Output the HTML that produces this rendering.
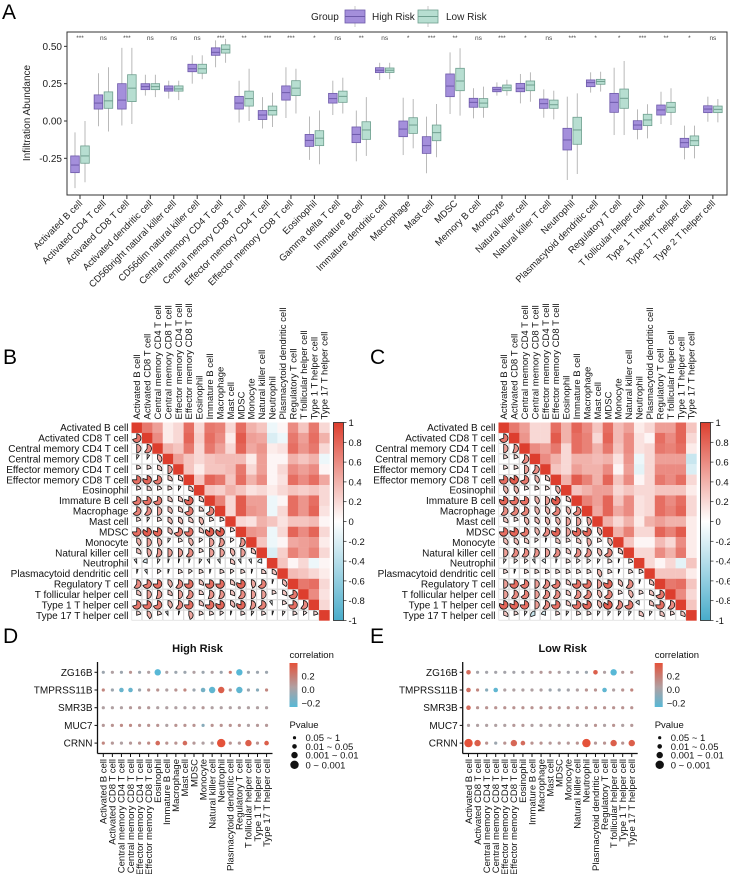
<!DOCTYPE html>
<html><head><meta charset="utf-8">
<style>
html,body{margin:0;padding:0;background:#fff;}
svg{display:block;font-family:"Liberation Sans",Arial,sans-serif;}
</style></head>
<body>
<svg id="fig" width="730" height="874" viewBox="0 0 730 874" xmlns="http://www.w3.org/2000/svg"></svg>
<script>
// ---------- DATA ----------
const boxCategories=["Activated B cell","Activated CD4 T cell","Activated CD8 T cell","Activated dendritic cell","CD56bright natural killer cell","CD56dim natural killer cell","Central memory CD4 T cell","Central memory CD8 T cell","Effector memory CD4 T cell","Effector memory CD8 T cell","Eosinophil","Gamma delta T cell","Immature  B cell","Immature dendritic cell","Macrophage","Mast cell","MDSC","Memory B cell","Monocyte","Natural killer cell","Natural killer T cell","Neutrophil","Plasmacytoid dendritic cell","Regulatory T cell","T follicular helper cell","Type 1 T helper cell","Type 17 T helper cell","Type 2 T helper cell"];
const highMedian=[-0.295,0.12,0.14,0.23,0.215,0.35,0.46,0.12,0.04,0.19,-0.13,0.15,-0.09,0.34,-0.054,-0.165,0.234,0.125,0.21,0.219,0.116,-0.127,0.257,0.125,-0.027,0.074,-0.145,0.08];
const highQ1=[-0.346,0.08,0.08,0.21,0.2,0.33,0.44,0.08,0.01,0.14,-0.17,0.12,-0.145,0.324,-0.105,-0.217,0.163,0.092,0.196,0.196,0.085,-0.194,0.23,0.058,-0.056,0.04,-0.176,0.056];
const highQ3=[-0.234,0.175,0.25,0.25,0.235,0.38,0.49,0.165,0.07,0.235,-0.09,0.185,-0.04,0.357,0,-0.105,0.315,0.152,0.226,0.252,0.147,-0.049,0.275,0.185,0.002,0.107,-0.116,0.102];
const highLow=[-0.45,-0.035,-0.03,0.17,0.15,0.25,0.36,-0.01,-0.05,0.02,-0.26,0.04,-0.27,0.275,-0.228,-0.35,0.047,0.018,0.17,0.118,0.022,-0.395,0.19,-0.094,-0.123,-0.02,-0.257,-0.005];
const highHigh=[-0.076,0.32,0.49,0.31,0.27,0.44,0.54,0.27,0.16,0.36,0.03,0.27,0.07,0.39,0.156,0.029,0.46,0.219,0.259,0.315,0.212,0.163,0.326,0.357,0.078,0.196,-0.031,0.163];
const lowMedian=[-0.234,0.135,0.22,0.23,0.215,0.35,0.48,0.15,0.07,0.22,-0.115,0.165,-0.06,0.34,-0.027,-0.078,0.268,0.12,0.222,0.241,0.109,-0.06,0.265,0.152,0.007,0.092,-0.132,0.078];
const lowQ1=[-0.283,0.085,0.13,0.21,0.2,0.32,0.455,0.1,0.04,0.17,-0.165,0.125,-0.123,0.325,-0.083,-0.132,0.203,0.092,0.203,0.203,0.085,-0.156,0.246,0.085,-0.031,0.058,-0.165,0.056];
const lowQ3=[-0.167,0.195,0.31,0.25,0.235,0.38,0.51,0.2,0.1,0.27,-0.065,0.2,-0.005,0.355,0.022,-0.027,0.353,0.15,0.241,0.268,0.14,0.025,0.279,0.214,0.045,0.125,-0.1,0.1];
const lowLow=[-0.41,-0.07,-0.02,0.16,0.14,0.28,0.39,0,-0.04,0.05,-0.29,0.05,-0.234,0.28,-0.183,-0.243,0.036,0.022,0.17,0.129,0.011,-0.355,0.197,-0.094,-0.116,-0.027,-0.25,-0.009];
const lowHigh=[0.0,0.36,0.49,0.31,0.27,0.44,0.55,0.35,0.19,0.35,0.07,0.29,0.16,0.39,0.147,0.114,0.487,0.23,0.276,0.326,0.203,0.185,0.33,0.402,0.112,0.219,-0.031,0.147];
const sigLabels=["***","ns","***","ns","ns","ns","***","**","***","***","*","ns","**","ns","*","***","**","ns","***","*","ns","***","*","*","***","**","*","ns"];
const yTicksA=[0.5,0.25,0,-0.25];
const yTickLabelsA=["0.50","0.25","0.00","-0.25"];

const corrCells=["Activated B cell","Activated CD8 T cell","Central memory CD4 T cell","Central memory CD8 T cell","Effector memory CD4 T cell","Effector memory CD8 T cell","Eosinophil","Immature  B cell","Macrophage","Mast cell","MDSC","Monocyte","Natural killer cell","Neutrophil","Plasmacytoid dendritic cell","Regulatory T cell","T follicular helper cell","Type 1 T helper cell","Type 17 T helper cell"];
const corrHighLower=[[],[0.7],[0.5,0.6],[0.1,0.1,0.4],[0.2,0.2,0.3,0.5],[0.75,0.8,0.7,0.3,0.3],[0.2,0.25,0.2,0.2,0.1,0.3],[0.7,0.75,0.7,0.3,0.3,0.8,0.3],[0.65,0.6,0.5,0.35,0.3,0.7,0.25,0.65],[0.2,0.1,0.2,0.35,0.35,0.3,0.4,0.2,0.2],[0.75,0.85,0.8,0.35,0.7,0.75,0.3,0.85,0.85,0.2],[0.4,0.5,0.45,0.1,0.2,0.4,0.15,0.5,0.55,0.15,0.55],[0.3,0.45,0.55,0.5,0.5,0.6,0.2,0.5,0.5,0.4,0.5,0.3],[-0.1,-0.2,0.1,0.05,0.05,0.05,0.1,-0.1,-0.1,0.3,-0.1,-0.1,-0.2],[0.05,-0.1,0.15,0.05,0.2,0.15,0.2,0.05,0.2,0.15,0.2,0.05,0.25,0.3],[0.6,0.7,0.75,0.4,0.6,0.75,0.3,0.75,0.75,0.3,0.8,0.45,0.65,0.05,0.35],[0.3,0.5,0.55,0.3,0.5,0.6,0.25,0.55,0.55,0.3,0.6,0.5,0.5,0.2,0.3,0.7],[0.7,0.75,0.7,0.4,0.6,0.75,0.3,0.75,0.8,0.35,0.8,0.55,0.65,-0.1,0.2,0.75,0.6],[0.2,0.4,0.2,-0.1,0.05,0.45,0.2,0.2,0.15,0.05,0.2,0.1,0.2,0.05,0.1,0.2,0.15,0.2]];
const corrLowLower=[[],[0.7],[0.5,0.55],[0.2,0.2,0.6],[0.2,0.2,0.5,0.6],[0.75,0.85,0.7,0.4,0.3],[0.4,0.4,0.2,0.2,0.2,0.4],[0.8,0.75,0.75,0.4,0.5,0.85,0.3],[0.6,0.65,0.65,0.4,0.4,0.65,0.4,0.65],[0.3,0.2,0.4,0.35,0.4,0.4,0.5,0.5,0.45],[0.75,0.8,0.7,0.4,0.6,0.8,0.5,0.8,0.8,0.4],[0.35,0.35,0.3,0.15,0.05,0.3,0.2,0.3,0.45,0.2,0.4],[0.5,0.6,0.6,0.55,0.5,0.6,0.3,0.6,0.6,0.4,0.65,0.3],[0.1,0.15,0.15,-0.1,-0.15,0.05,0.2,0.15,0.15,0.1,0.2,0.05,0.2],[0.2,0.05,0.2,0.2,0.2,0.2,0.2,0.2,0.2,0.4,0.2,0.05,0.2,0.2],[0.5,0.75,0.7,0.5,0.6,0.7,0.3,0.75,0.75,0.5,0.8,0.35,0.6,0.05,0.3],[0.5,0.6,0.65,0.5,0.6,0.6,0.3,0.6,0.65,0.4,0.65,0.2,0.4,0.2,0.3,0.7],[0.8,0.8,0.75,0.5,0.6,0.75,0.3,0.75,0.8,0.4,0.85,0.6,0.7,-0.15,0.3,0.75,0.6],[0.3,0.2,0.1,-0.3,-0.2,0.2,0.1,0.2,0.2,0.1,0.1,0.1,0.1,0.3,0.1,0.3,0.2,0.3]];
const colorbarTicks=[1,0.8,0.6,0.4,0.2,0,-0.2,-0.4,-0.6,-0.8,-1];

const dotGenes=["ZG16B","TMPRSS11B","SMR3B","MUC7","CRNN"];
const dotCells=corrCells;
const dotHighCorr=[[-0.05,0,-0.05,0.05,-0.05,0,-0.22,0,-0.05,-0.05,0,-0.05,0,-0.05,0.15,-0.22,-0.05,-0.05,-0.05],[0.1,-0.05,-0.18,-0.18,-0.05,0.05,0.05,0,0.05,0.1,-0.05,-0.15,-0.2,0.25,0.05,-0.2,-0.05,-0.1,0.1],[0,0,0,0.03,0.03,0.03,0,0,0,0,0,0.03,0,0,0,0,0,0,0],[0.03,0.05,0.08,0.08,0.05,0.05,0.05,0,0.05,0.05,0.05,-0.1,0.05,0.05,0.05,0.05,0,0.03,0.03],[0.1,0.03,0,0.03,0.05,0.08,0.2,0.05,0.05,0.2,0.03,0,0,0.3,0.05,0.03,0.25,0.05,0.25]];
const dotHighP=[[0,0,0,0,0,0,2,0,0,0,0,0,0,0,0,2,0,0,0],[0,0,1,1,0,0,0,0,0,0,0,1,2,2,0,2,0,0,0],[0,0,0,0,0,0,0,0,0,0,0,0,0,0,0,0,0,0,0],[0,0,0,0,0,0,0,0,0,0,0,0,0,0,0,0,0,0,0],[0,0,0,0,0,0,1,0,0,1,0,0,0,3,0,0,2,0,1]];
const dotLowCorr=[[0.2,-0.03,-0.03,-0.03,-0.03,-0.03,-0.03,0,0.03,0.03,0,-0.03,-0.03,-0.05,0.25,0,-0.22,0.03,0.05],[0.18,0.1,-0.1,-0.2,0,0,0,0,0,-0.05,-0.05,-0.03,0,0.05,0.05,-0.2,0,0.05,0.1],[0.2,0.05,0.05,0.05,0.05,0.05,0.05,0.05,0.05,0.05,0.05,0.05,0.05,0.05,0.05,0.05,0.05,0.05,0.05],[0,0,0,0,0,0.03,0.03,0,0,0,0,0,0,0,0.05,0,0.05,0,0.03],[0.3,0.25,0.05,-0.05,0.05,0.22,0.2,0.05,0.05,0.03,0.03,0.03,0.05,0.32,0.03,0.05,0.25,0.05,0.25]];
const dotLowP=[[1,0,0,0,0,0,0,0,0,0,0,0,0,0,1,0,2,0,0],[1,0,0,1,0,0,0,0,0,0,0,0,0,0,0,1,0,0,0],[1,0,0,0,0,0,0,0,0,0,0,0,0,0,0,0,0,0,0],[0,0,0,0,0,0,0,0,0,0,0,0,0,0,0,0,0,0,0],[3,2,0,0,0,2,1,0,0,0,0,0,0,3,0,0,2,0,2]];
const pLabels=["0.05 ~ 1","0.01 ~ 0.05","0.001 ~ 0.01","0 ~ 0.001"];
const corrLegendTicks=[0.2,0.0,-0.2];

// ---------- HELPERS ----------
const NS="http://www.w3.org/2000/svg";
const svg=document.getElementById('fig');
function mk(tag,attrs,parent){const e=document.createElementNS(NS,tag);for(const k in attrs)e.setAttribute(k,attrs[k]);(parent||svg).appendChild(e);return e;}
function txt(s,attrs,parent){const e=mk('text',attrs,parent);e.textContent=s;return e;}
function lerp(a,b,t){return Math.round(a+(b-a)*t);}
function corrColor(v){v=Math.max(-1,Math.min(1,v));
  if(v>=0){return `rgb(${lerp(255,221,v)},${lerp(255,62,v)},${lerp(255,46,v)})`;}
  const t=-v;return `rgb(${lerp(255,72,t)},${lerp(255,172,t)},${lerp(255,202,t)})`;}
function dotColor(v){
  if(v>=0){const t=Math.min(1,v/0.3);return `rgb(${lerp(176,228,t)},${lerp(160,82,t)},${lerp(162,58,t)})`;}
  const t=Math.min(1,-v/0.22);return `rgb(${lerp(176,88,t)},${lerp(160,184,t)},${lerp(162,214,t)})`;}
function corrAt(lower,i,j){if(i===j)return 1;return i>j?lower[i][j]:lower[j][i];}

// ---------- PANEL A ----------
const gA=mk('g',{});


const lblA=txt('A',{x:2,y:19,'font-size':21},gA);


const AX0=67,AX1=727,AY0=32,AY1=195;
const xA=i=>80+i*23.44;
const yA=v=>121-v*149.3;
const frameA=mk('rect',{x:AX0,y:AY0,width:AX1-AX0,height:AY1-AY0,fill:'none',stroke:'#333','stroke-width':1},gA);


yTicksA.forEach((v,k)=>{
  const t=mk('line',{x1:AX0-3,x2:AX0,y1:yA(v),y2:yA(v),stroke:'#333'},gA);
  
  
  const l=txt(yTickLabelsA[k],{x:AX0-5,y:yA(v)+3.5,'font-size':10,'text-anchor':'end',fill:'#222'},gA);
  
  
});
const yt=txt('Infiltration Abundance',{x:0,y:0,'font-size':10,'text-anchor':'middle',transform:`translate(30,113) rotate(-90)`,fill:'#222'},gA);


function drawBox(cx,q1,med,q3,lo,hi,fill,stroke,name){
  const w=mk('line',{x1:cx,x2:cx,y1:yA(hi),y2:yA(lo),stroke:'#a8a8a8','stroke-width':0.8},gA);
  
  
  const b=mk('rect',{x:cx-4.3,y:yA(q3),width:8.6,height:yA(q1)-yA(q3),fill:fill,stroke:stroke,'stroke-width':0.8},gA);
  
  
  const m=mk('line',{x1:cx-4.3,x2:cx+4.3,y1:yA(med),y2:yA(med),stroke:stroke,'stroke-width':1},gA);
  
  
}
boxCategories.forEach((c,i)=>{
  const cx=xA(i);
  drawBox(cx-5,highQ1[i],highMedian[i],highQ3[i],highLow[i],highHigh[i],'#A48FDB','#6E5AAA','box-high-risk');
  drawBox(cx+5,lowQ1[i],lowMedian[i],lowQ3[i],lowLow[i],lowHigh[i],'#B7DED1','#6F9F8F','box-low-risk');
  const tk=mk('line',{x1:cx,x2:cx,y1:AY1,y2:AY1+4,stroke:'#333'},gA);
  
  
  const lb=txt(c,{x:0,y:0,'font-size':9.5,'text-anchor':'end',fill:'#222',transform:`translate(${cx+3},${AY1+9}) rotate(-45)`},gA);
  
  
  const s=txt(sigLabels[i],{x:cx,y:40,'font-size':6.5,'text-anchor':'middle',fill:'#444'},gA);
  
  
});
const lg=mk('g',{},gA);


const lgt=txt('Group',{x:311,y:20,'font-size':10,fill:'#222'},lg);


[[345,'#A48FDB','#6E5AAA','High Risk',372],[418,'#B7DED1','#6F9F8F','Low Risk',446]].forEach(d=>{
  const e=mk('g',{},lg);
  
  
  mk('line',{x1:d[0]+10,x2:d[0]+10,y1:6,y2:27,stroke:'#bbb','stroke-width':0.8},e);
  mk('rect',{x:d[0],y:10,width:20,height:13,fill:d[1],stroke:d[2],'stroke-width':0.8},e);
  mk('line',{x1:d[0],x2:d[0]+20,y1:16.5,y2:16.5,stroke:d[2]},e);
  txt(d[3],{x:d[4],y:20,'font-size':10,fill:'#222'},e);
});

// ---------- PANELS B & C ----------
function drawCorr(x0,y0,lower,pname,letter,lx){
  const g=mk('g',{});
  
  
  const L=txt(letter,{x:lx,y:364,'font-size':21},g);
  
  
  const n=corrCells.length, cs=10.42;
  for(let i=0;i<n;i++){for(let j=0;j<n;j++){
    const v=corrAt(lower,i,j);const x=x0+j*cs,y=y0+i*cs;
    if(j>=i){
      const r=mk('rect',{x:x,y:y,width:cs+0.2,height:cs+0.2,fill:corrColor(v)},g);
      
      
    }else{
      const r=mk('rect',{x:x+0.3,y:y+0.3,width:cs-0.6,height:cs-0.6,fill:'#fff',stroke:'#d4d4d4','stroke-width':0.6},g);
      
      
      const cx=x+cs/2,cy=y+cs/2,rad=4.3,a=Math.abs(v)*2*Math.PI,dir=v>=0?1:-1;
      const ex=cx+dir*rad*Math.sin(a),ey=cy-rad*Math.cos(a);
      const d=`M${cx},${cy} L${cx},${cy-rad} A${rad},${rad} 0 ${a>Math.PI?1:0} ${v>=0?1:0} ${ex.toFixed(2)},${ey.toFixed(2)} Z`;
      const p=mk('path',{d:d,fill:corrColor(v),stroke:'#111','stroke-width':0.8},g);
      
      
    }
  }}
  corrCells.forEach((c,i)=>{
    const rl=txt(c,{x:x0-3,y:y0+i*cs+cs/2+3.5,'font-size':10,'text-anchor':'end',fill:'#111'},g);
    
    
    const cl=txt(c,{x:0,y:0,'font-size':9.5,fill:'#111',transform:`translate(${x0+i*cs+cs/2+3.4},${y0-3}) rotate(-90)`},g);
    
    
  });
  const bx=x0+n*cs+4,bw=10,bh=n*cs;
  const gid='cbg'+letter;
  const defs=mk('defs',{},g);
  const lgd=mk('linearGradient',{id:gid,x1:0,y1:0,x2:0,y2:1},defs);
  [1,0.5,0,-0.5,-1].forEach((v,k)=>mk('stop',{offset:k*0.25,'stop-color':corrColor(v)},lgd));
  const cb=mk('rect',{x:bx,y:y0,width:bw,height:bh,fill:`url(#${gid})`,stroke:'#222','stroke-width':0.8},g);
  
  
  colorbarTicks.forEach(v=>{
    const yy=y0+(1-v)/2*bh;
    mk('line',{x1:bx+bw,x2:bx+bw+3,y1:yy,y2:yy,stroke:'#222','stroke-width':0.7},g);
    const t=txt(String(v),{x:bx+bw+5,y:yy+3.5,'font-size':9.5,fill:'#111'},g);
    
    
  });
}
drawCorr(131.5,422.5,corrHighLower,'panel-b-correlation-high','B',3);
drawCorr(498.5,422.5,corrLowLower,'panel-c-correlation-low','C',370);

// ---------- PANELS D & E ----------
function drawDots(ax,title,corr,pv,pname,letter,lx){
  const g=mk('g',{});
  
  
  const L=txt(letter,{x:lx,y:643,'font-size':21},g);
  
  
  const xD=j=>ax+5.8+j*9.07, yD=i=>672.3+i*17.7;
  const rs=[1.6,2.3,3.2,4.2];
  const ti=txt(title,{x:ax+100,y:652,'font-size':11,'font-weight':'bold','text-anchor':'middle',fill:'#111'},g);
  
  
  const ya=mk('line',{x1:ax,x2:ax,y1:662,y2:753.5,stroke:'#111','stroke-width':1.3},g);
  
  
  const xa=mk('line',{x1:ax,x2:ax+175,y1:753.5,y2:753.5,stroke:'#111','stroke-width':1.3},g);
  
  
  dotGenes.forEach((gn,i)=>{
    mk('line',{x1:ax-3,x2:ax,y1:yD(i),y2:yD(i),stroke:'#111'},g);
    const l=txt(gn,{x:ax-5,y:yD(i)+3.5,'font-size':10,'text-anchor':'end',fill:'#111'},g);
    
    
    dotCells.forEach((c,j)=>{
      const d=mk('circle',{cx:xD(j),cy:yD(i),r:rs[pv[i][j]],fill:dotColor(corr[i][j])},g);
      
      
    });
  });
  dotCells.forEach((c,j)=>{
    mk('line',{x1:xD(j),x2:xD(j),y1:753.5,y2:757,stroke:'#111'},g);
    const l=txt(c,{x:0,y:0,'font-size':9.5,'text-anchor':'end',fill:'#111',transform:`translate(${xD(j)+3.3},759) rotate(-90)`},g);
    
    
  });
  const lx0=ax+192;
  const lt=txt('correlation',{x:lx0,y:658,'font-size':9.5,fill:'#111'},g);
  
  
  const gid='dg'+letter;
  const defs=mk('defs',{},g);
  const lgd=mk('linearGradient',{id:gid,x1:0,y1:0,x2:0,y2:1},defs);
  [[0,0.3],[0.55,0],[1,-0.22]].forEach(s=>mk('stop',{offset:s[0],'stop-color':dotColor(s[1])},lgd));
  const gb=mk('rect',{x:lx0,y:663,width:8,height:44,fill:`url(#${gid})`},g);
  
  
  const cy=v=>689.5-v/0.2*13.3;
  corrLegendTicks.forEach(v=>{
    const t=txt(v===0?'0.0':(v>0?'0.2':'\u22120.2'),{x:lx0+12,y:cy(v)+3.5,'font-size':9.5,fill:'#111'},g);
    
    
  });
  const pt=txt('Pvalue',{x:lx0,y:728,'font-size':9.5,fill:'#111'},g);
  
  
  pLabels.forEach((p,k)=>{
    const yy=737.7+k*8.7+(k===3?1:0);
    const c=mk('circle',{cx:lx0+5,cy:yy,r:rs[k],fill:'#111'},g);
    
    
    const t=txt(p,{x:lx0+16,y:yy+3.5,'font-size':9.5,fill:'#111'},g);
    
    
  });
}
drawDots(97.5,'High Risk',dotHighCorr,dotHighP,'panel-d-dotplot-high','D',3);
drawDots(462.7,'Low Risk',dotLowCorr,dotLowP,'panel-e-dotplot-low','E',370);
</script>
</body></html>
